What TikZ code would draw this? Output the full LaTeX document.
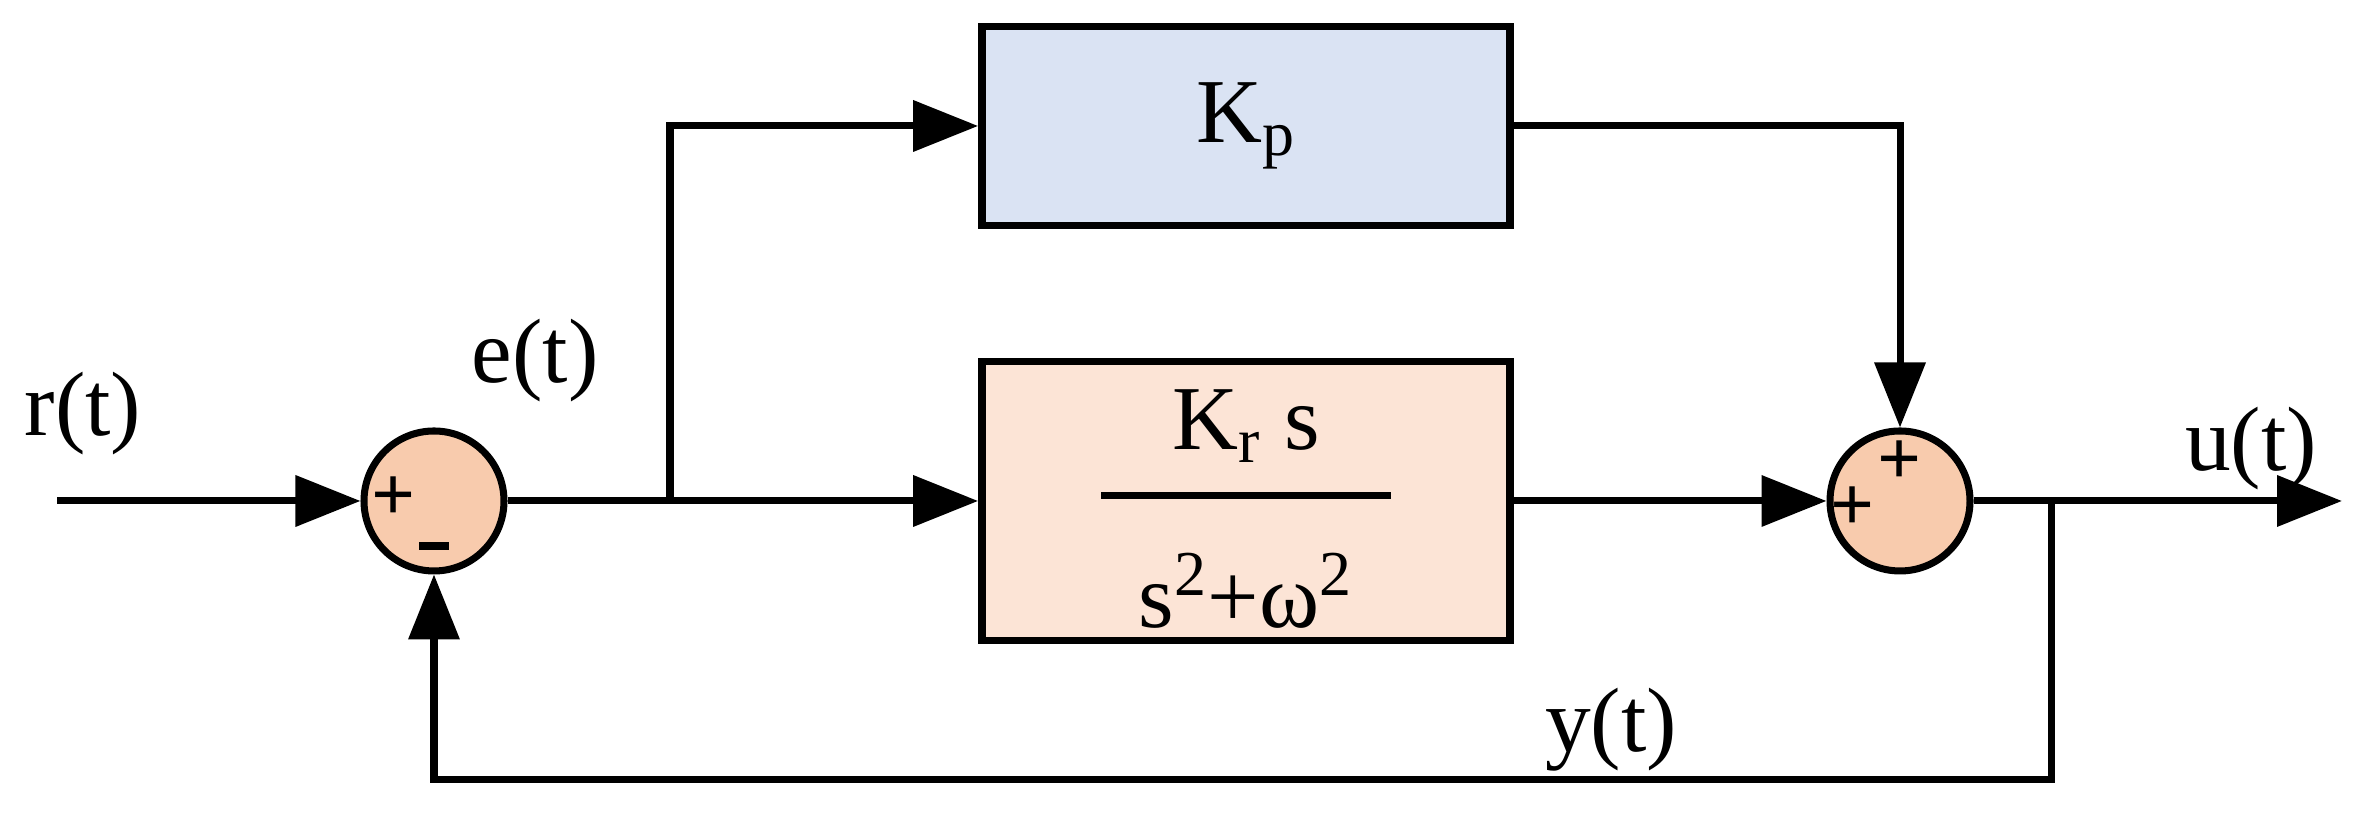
\documentclass[tikz,border=0pt]{standalone}
\usepackage{fontspec}
\setmainfont{Liberation Serif}
\usetikzlibrary{arrows.meta,calc}
\definecolor{kpblue}{RGB}{218,227,243}
\definecolor{krorange}{RGB}{252,228,214}
\definecolor{sumorange}{RGB}{248,203,173}
\begin{document}
\begin{tikzpicture}[line width=2pt,
	blk/.style={draw, line width=2.2pt, minimum width=5.28cm, inner sep=0pt},
	sum/.style={draw, circle, fill=sumorange, minimum size=1.4cm, inner sep=0pt},
	sig/.style={font=\fontsize{26}{30}\selectfont},
	pm/.style={font=\bfseries\fontsize{22}{22}\selectfont, inner sep=0pt},
	>={Triangle[length=0.65cm,width=0.5cm]}]
		\useasboundingbox (0,0) rectangle (23.61,8.21);
		\node[sum] (s1) at (4.34, 3.20) {};
		\node[sum] (s2) at (19.00, 3.20) {};
		\node[blk, fill=kpblue, minimum height=1.99cm] (kp) at (12.46, 6.95) {\fontsize{26}{30}\selectfont K\textsubscript{p}};
		\node[blk, fill=krorange, minimum height=2.79cm] (kr) at (12.46, 3.20) {};
		\node[sig] (num) at (12.46, 3.95) {K\textsubscript{r} s};
		\node[sig] (den) at (12.46, 2.30) {s\textsuperscript{2}+ω\textsuperscript{2}};
		\draw (11.01, 3.25) -- (13.91, 3.25);
		\coordinate (in) at (0.57, 3.20);
		\coordinate (br) at (6.70, 3.20);
		\coordinate (tap) at (20.51, 3.20);
		\coordinate (out) at (23.42, 3.20);
		% signs
		\node[pm] at ($(s1)+(-0.40,0.02)$) {+};
		\node[pm] at ($(s1)+(0,-0.45)$) {\rule{0.3cm}{2.5pt}};
		\node[pm] at ($(s2)+(-0.47,-0.08)$) {+};
		\node[pm] at ($(s2)+(0,0.38)$) {+};
		% connectors
		\draw[->] (in) -- (s1);
		\draw (s1) -- (br);
		\draw[->] (br) -- (kr);
		\draw[->] (br) |- (kp);
		\draw[->] (kp) -| (s2);
		\draw[->] (kr) -- (s2);
		\draw[->] (s2) -- (out);
		\draw[->] (tap) -- ++(0,-2.79) -| (s1);
		% labels
		\node[sig] at (0.83, 4.07) {r(t)};
		\node[sig] at (5.35, 4.60) {e(t)};
		\node[sig] at (22.51, 3.72) {u(t)};
		\node[sig] at (16.11, 0.91) {y(t)};
\end{tikzpicture}
\end{document}
